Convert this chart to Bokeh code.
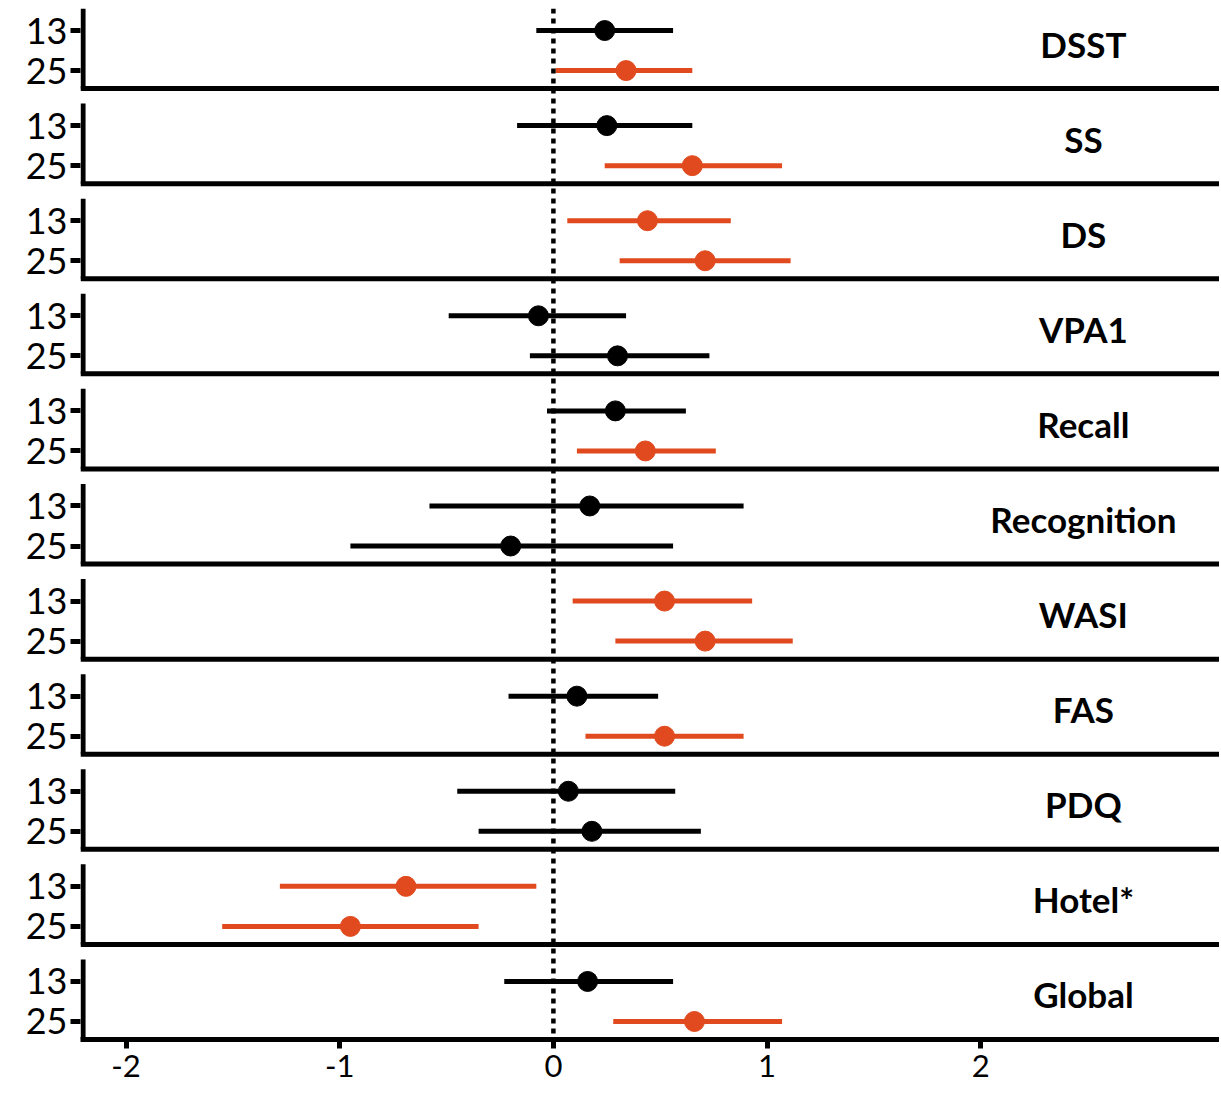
from bokeh.plotting import figure
from bokeh.models import ColumnDataSource, FixedTicker, Span, Range1d
from bokeh.core.properties import value
from bokeh.embed import file_html
from bokeh.resources import INLINE

# ---- data ----
tests = ["DSST", "SS", "DS", "VPA1", "Recall", "Recognition", "WASI", "FAS", "PDQ", "Hotel*", "Global"]
groups = ["13", "25"]
est_13 = [0.24, 0.25, 0.44, -0.07, 0.29, 0.17, 0.52, 0.11, 0.07, -0.69, 0.16]
lo_13 = [-0.08, -0.17, 0.065, -0.49, -0.03, -0.58, 0.09, -0.21, -0.45, -1.28, -0.23]
hi_13 = [0.56, 0.65, 0.83, 0.34, 0.62, 0.89, 0.93, 0.49, 0.57, -0.08, 0.56]
sig_13 = [False, False, True, False, False, False, True, False, False, True, False]
est_25 = [0.34, 0.65, 0.71, 0.30, 0.43, -0.20, 0.71, 0.52, 0.18, -0.95, 0.66]
lo_25 = [0.01, 0.24, 0.31, -0.11, 0.11, -0.95, 0.29, 0.15, -0.35, -1.55, 0.28]
hi_25 = [0.65, 1.07, 1.11, 0.73, 0.76, 0.56, 1.12, 0.89, 0.69, -0.35, 1.07]
sig_25 = [True, True, True, False, True, False, True, True, False, True, True]
x_ticks = [-2, -1, 0, 1, 2]
x_tick_labels = ["-2", "-1", "0", "1", "2"]

# ---- layout constants ----
ORANGE = "#E04A1E"
BLACK = "#000000"
XMIN, XMAX = -2.213, 3.117
N = len(tests)
PANEL_H = 80 / 95        # visible panel height in panel units
OFF13, OFF25 = 58 / 95, 18 / 95
LABEL_OFF = 45 / 95
FONT = "Lato"

ys, xs, los, his, cols = [], [], [], [], []
tick_pos, tick_lab = [], []
for k, t in enumerate(tests):
    base = (N - 1 - k)
    for g, e, l, h, s, off in (("13", est_13[k], lo_13[k], hi_13[k], sig_13[k], OFF13),
                               ("25", est_25[k], lo_25[k], hi_25[k], sig_25[k], OFF25)):
        ys.append(base + off)
        xs.append(e)
        los.append(l)
        his.append(h)
        cols.append(ORANGE if s else BLACK)
        tick_pos.append(base + off)
        tick_lab.append(g)

src = ColumnDataSource(dict(y=ys, x=xs, lo=los, hi=his, c=cols))

p = figure(width=1219, height=1090, output_backend="svg", toolbar_location=None,
           x_range=Range1d(XMIN, XMAX), y_range=Range1d(0, (N - 1) + PANEL_H),
           min_border_left=80, min_border_right=0, min_border_top=8, min_border_bottom=51)
p.outline_line_color = None
p.grid.visible = False
p.background_fill_color = "white"

# zero line
p.add_layout(Span(location=0, dimension="height", line_color="black",
                  line_width=4.5, line_dash="5 5"))

# panel frames: left axis pieces and bottom lines
bases = [N - 1 - k for k in range(N)]
p.segment(x0=[XMIN + 0.012] * N, x1=[XMIN + 0.012] * N, y0=bases,
          y1=[b + PANEL_H for b in bases], line_color="black", line_width=5)
p.segment(x0=[XMIN] * (N - 1), x1=[XMAX] * (N - 1), y0=bases[:-1], y1=bases[:-1],
          line_color="black", line_width=5)

# error bars and points
p.segment(x0="lo", x1="hi", y0="y", y1="y", line_color="c", line_width=5, source=src)
p.scatter(x="x", y="y", size=20, fill_color="c", line_color="c", source=src)

# panel titles
p.text(x=[2.48] * N, y=[b + LABEL_OFF for b in bases], text=tests,
       text_align="center", text_baseline="middle", text_font=value(FONT),
       text_font_style="bold", text_font_size="35px", text_color="black")

# axes
xa = p.xaxis[0]
xa.ticker = FixedTicker(ticks=x_ticks)
xa.major_label_overrides = {t: lab for t, lab in zip(x_ticks, x_tick_labels)}
xa.axis_line_width = 5
xa.major_tick_line_width = 5
xa.major_tick_out = 9
xa.major_tick_in = 0
xa.minor_tick_line_color = None
xa.major_label_text_font = FONT
xa.major_label_text_font_size = "31px"
xa.major_label_text_color = "black"
xa.major_label_standoff = 6

ya = p.yaxis[0]
ya.ticker = FixedTicker(ticks=tick_pos)
ya.major_label_overrides = {tp: lab for tp, lab in zip(tick_pos, tick_lab)}
ya.axis_line_color = None
ya.major_tick_line_width = 5
ya.major_tick_out = 10
ya.major_tick_in = 0
ya.minor_tick_line_color = None
ya.major_label_text_font = FONT
ya.major_label_text_font_size = "36px"
ya.major_label_text_color = "black"
ya.major_label_standoff = 3

open("out.html", "w").write(file_html(p, INLINE))
